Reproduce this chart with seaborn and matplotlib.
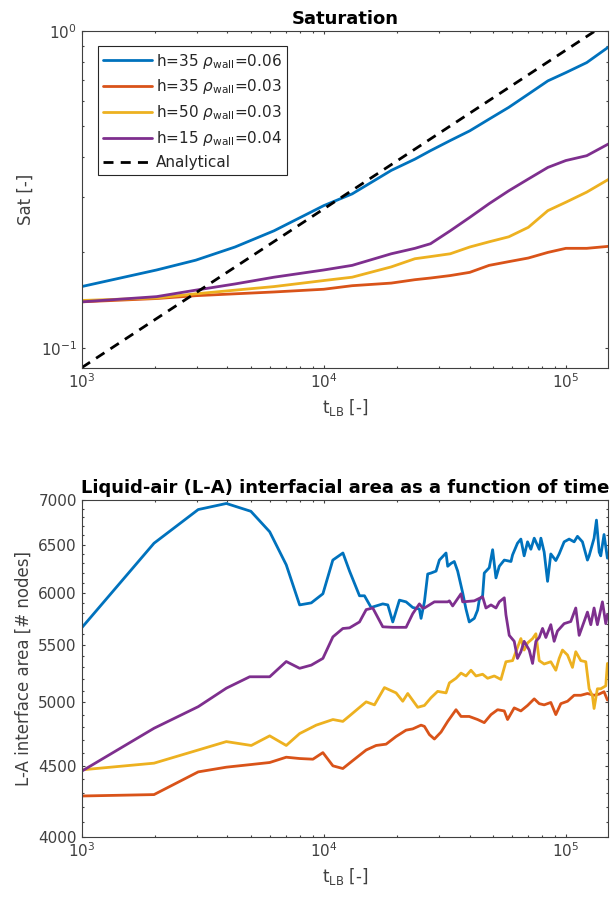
import numpy as np
import pandas as pd
import matplotlib
matplotlib.use("Agg")
import matplotlib.pyplot as plt
import seaborn as sns
from matplotlib.ticker import FixedLocator, FixedFormatter, NullFormatter, LogLocator, LogFormatterSciNotation

# ---------------- data ----------------
labels = [r"h=35 $\rho_{\rm wall}$=0.06", r"h=35 $\rho_{\rm wall}$=0.03",
          r"h=50 $\rho_{\rm wall}$=0.03", r"h=15 $\rho_{\rm wall}$=0.04"]
colors = ["#0072BD", "#D95319", "#EDB120", "#7E2F8E"]

# Saturation vs lattice time
sat_time = [1000, 2040, 2960, 4300, 6230, 10000, 13100, 19000, 23800, 27600,
            33300, 40100, 48200, 58100, 70000, 84300, 100000, 122000, 150000]
sat_h35_w06 = [0.156, 0.176, 0.189, 0.208, 0.234, 0.281, 0.306, 0.363, 0.394, 0.419,
               0.451, 0.484, 0.527, 0.574, 0.632, 0.696, 0.739, 0.795, 0.89]
sat_h35_w03 = [0.1396, 0.143, 0.146, 0.148, 0.150, 0.153, 0.157, 0.160, 0.164, 0.166,
               0.169, 0.173, 0.182, 0.187, 0.192, 0.200, 0.206, 0.206, 0.209]
sat_h50_w03 = [0.141, 0.1436, 0.148, 0.152, 0.156, 0.163, 0.167, 0.180, 0.191, 0.194,
               0.198, 0.208, 0.216, 0.224, 0.240, 0.271, 0.288, 0.310, 0.340]
sat_h15_w04 = [0.1396, 0.145, 0.152, 0.159, 0.167, 0.176, 0.182, 0.198, 0.206, 0.213,
               0.234, 0.258, 0.285, 0.313, 0.341, 0.371, 0.390, 0.404, 0.440]
analytical_time = [1000, 132000]
analytical_sat = [0.0865, 1.0]

# Liquid-air interfacial area vs lattice time
la_t_h35_w06 = [1000, 1990, 3030, 3960, 5000, 5980, 7000, 7950, 8880, 9920, 10900, 12000,
                12780, 14050, 14730, 15690, 17530, 18390, 19280, 20540, 21880, 23310,
                24830, 25230, 26050, 26880, 27750, 29100, 30030, 32000, 32510, 33550,
                34600, 35740, 37480, 38680, 39900, 41860, 43210, 43900, 45310, 46030,
                48270, 49840, 51440, 53090, 55680, 59340, 60250, 63130, 65200, 67260,
                69480, 71710, 74030, 77630, 78870, 81370, 84040, 86670, 90900, 93850,
                98400, 103200, 108200, 111700, 117100, 122800, 124800, 130800, 133800,
                137300, 139400, 143800, 148500]
la_h35_w06 = [5660, 6515, 6890, 6960, 6870, 6640, 6285, 5880, 5900, 5990, 6335, 6410,
              6220, 5970, 5970, 5855, 5890, 5880, 5716, 5927, 5910, 5855,
              5840, 5750, 5910, 6190, 6200, 6220, 6335, 6410, 6270, 6300,
              6320, 6220, 6000, 5840, 5716, 5750, 5830, 5930, 5970, 6200,
              6255, 6445, 6150, 6270, 6335, 6320, 6390, 6515, 6560, 6380,
              6530, 6450, 6570, 6450, 6570, 6420, 6115, 6400, 6330, 6400,
              6530, 6560, 6530, 6590, 6530, 6335, 6380, 6570, 6770,
              6420, 6380, 6610, 6355]

la_t_h35_w03 = [1000, 1990, 3030, 3960, 5020, 5980, 7000, 7950, 9020, 9918, 10910, 11990,
                13190, 14970, 16460, 18090, 19900, 21880, 23310, 25230, 26050, 27310,
                28640, 30510, 32510, 35180, 36900, 39900, 43210, 46030, 49070, 52260,
                55680, 57450, 61200, 65200, 69480, 74030, 77630, 81370, 86670, 90900,
                95350, 101600, 108200, 115300, 122800, 130800, 137300, 143800, 148500]
la_h35_w03 = [4280, 4290, 4455, 4490, 4510, 4525, 4565, 4555, 4550, 4600, 4500, 4480,
              4540, 4620, 4655, 4665, 4725, 4775, 4785, 4815, 4805, 4740,
              4705, 4760, 4845, 4940, 4885, 4885, 4860, 4835, 4900, 4940,
              4930, 4860, 4955, 4930, 4975, 5030, 4990, 4980, 5000, 4900,
              4990, 5010, 5060, 5060, 5075, 5060, 5070, 5090, 5020]

la_t_h50_w03 = [1000, 1990, 3030, 3960, 5020, 5980, 7000, 7950, 9310, 10910, 11990, 12780,
                14970, 16200, 17810, 19900, 21200, 22230, 24440, 26050, 27750, 29550,
                32000, 33030, 35180, 36900, 38680, 40560, 42540, 45310, 47520, 50630,
                53940, 56560, 60250, 65200, 67260, 69480, 72870, 75210, 77630, 81370,
                86670, 90900, 93850, 96850, 101600, 106500, 109900, 115300, 120900,
                124800, 128800, 130800, 135000, 139400, 146200, 148500]
la_h50_w03 = [4470, 4520, 4620, 4685, 4655, 4730, 4655, 4748, 4815, 4860, 4845, 4890,
              5005, 4980, 5125, 5080, 5010, 5075, 4960, 4975, 5040, 5093,
              5080, 5165, 5205, 5250, 5225, 5275, 5225, 5240, 5205, 5225,
              5195, 5350, 5360, 5560, 5455, 5520, 5560, 5605, 5360, 5330,
              5350, 5275, 5380, 5455, 5410, 5300, 5440, 5360, 5350,
              5115, 5055, 4950, 5115, 5115, 5140, 5335]

la_t_h15_w04 = [1000, 1990, 3030, 3960, 4943, 5980, 7000, 7950, 8880, 9920, 10910, 11990,
                12780, 14050, 14970, 15940, 17530, 19280, 21200, 21880, 23310, 24830,
                25630, 26050, 28640, 32510, 33030, 34080, 36900, 37480, 41860, 45310,
                46770, 49070, 51440, 53090, 55680, 56560, 58370, 61200, 63130, 65200,
                67260, 70590, 72870, 75210, 77630, 80130, 82690, 86670, 89470, 92330,
                98400, 104800, 109900, 113500, 119000, 122800, 126800, 130800, 135000,
                141600, 146200, 148500]
la_h15_w04 = [4460, 4790, 4965, 5120, 5218, 5218, 5352, 5292, 5320, 5380, 5576, 5654,
              5660, 5716, 5834, 5850, 5670, 5665, 5665, 5665, 5795, 5890,
              5850, 5850, 5910, 5910, 5920, 5870, 5990, 5910, 5920, 5960,
              5850, 5880, 5850, 5910, 5950, 5785, 5590, 5535, 5380, 5440,
              5535, 5455, 5335, 5535, 5570, 5655, 5570, 5690, 5535, 5630,
              5700, 5720, 5850, 5590, 5720, 5810, 5690, 5850, 5690,
              5910, 5700, 5785]

area_ticks = [4000, 4500, 5000, 5500, 6000, 6500, 7000]
area_tick_labels = ["4000", "4500", "5000", "5500", "6000", "6500", "7000"]

# ---------------- style ----------------
sns.set_style("ticks")
plt.rcParams["font.family"] = ["DejaVu Sans"]
plt.rcParams["mathtext.fontset"] = "dejavusans"
text_gray = "#404040"
plt.rcParams.update({
    "axes.edgecolor": text_gray,
    "axes.linewidth": 0.8,
    "xtick.color": text_gray,
    "ytick.color": text_gray,
    "axes.labelcolor": text_gray,
})

fig = plt.figure(figsize=(6.14, 8.99), dpi=100)
ax1 = fig.add_axes([0.133, 0.591, 0.858, 0.3745])
ax2 = fig.add_axes([0.133, 0.0693, 0.858, 0.3745])

LW = 2.0

# ---------------- saturation panel ----------------
sat_series = [sat_h35_w06, sat_h35_w03, sat_h50_w03, sat_h15_w04]
for vals, lab, col in zip(sat_series, labels, colors):
    sns.lineplot(x=sat_time, y=vals, color=col, lw=LW, label=lab, ax=ax1,
                 estimator=None, sort=False)
sns.lineplot(x=analytical_time, y=analytical_sat, color="black", lw=LW,
             label="Analytical", ax=ax1, estimator=None, sort=False,
             dashes=False)
ax1.lines[-1].set_dashes((3.6, 2.6))

ax1.set_xscale("log")
ax1.set_yscale("log")
ax1.set_xlim(1000, 1.5e5)
ax1.set_ylim(0.0865, 1.0)
ax1.set_title("Saturation", fontsize=13, fontweight="bold", color="black", pad=5)
ax1.set_xlabel(r"t$_{\rm LB}$ [-]", fontsize=12)
ax1.set_ylabel("Sat [-]", fontsize=12)
ax1.xaxis.set_major_locator(LogLocator(base=10))
ax1.xaxis.set_major_formatter(LogFormatterSciNotation())
ax1.yaxis.set_major_locator(FixedLocator([0.1, 1.0]))
ax1.yaxis.set_major_formatter(LogFormatterSciNotation())
ax1.yaxis.set_minor_locator(FixedLocator([0.2, 0.3, 0.4, 0.5, 0.6, 0.7, 0.8, 0.9]))
ax1.yaxis.set_minor_formatter(NullFormatter())

leg = ax1.legend(loc="upper left", bbox_to_anchor=(0.031, 0.955), borderaxespad=0,
                 fontsize=11, handlelength=3.2, labelspacing=0.45, handletextpad=0.25,
                 fancybox=False, framealpha=1, edgecolor="#262626", borderpad=0.35)
leg.get_frame().set_linewidth(0.8)
for txt in leg.get_texts():
    txt.set_color("#262626")

# ---------------- interfacial area panel ----------------
area_t = [la_t_h35_w06, la_t_h35_w03, la_t_h50_w03, la_t_h15_w04]
area_v = [la_h35_w06, la_h35_w03, la_h50_w03, la_h15_w04]
for tt, vv, col in zip(area_t, area_v, colors):
    sns.lineplot(x=tt, y=vv, color=col, lw=LW, ax=ax2, estimator=None,
                 sort=False, legend=False)

ax2.set_xscale("log")
ax2.set_yscale("log")
ax2.set_xlim(1000, 1.5e5)
ax2.set_ylim(4000, 7000)
ax2.set_title("Liquid-air (L-A) interfacial area as a function of time",
              fontsize=13, fontweight="bold", color="black", pad=5)
ax2.set_xlabel(r"t$_{\rm LB}$ [-]", fontsize=12)
ax2.set_ylabel("L-A interface area [# nodes]", fontsize=12)
ax2.xaxis.set_major_locator(LogLocator(base=10))
ax2.xaxis.set_major_formatter(LogFormatterSciNotation())
ax2.yaxis.set_major_locator(FixedLocator(area_ticks))
ax2.yaxis.set_major_formatter(FixedFormatter(area_tick_labels))
ax2.yaxis.set_minor_locator(FixedLocator([v for v in range(4100, 7000, 100) if v % 500]))
ax2.yaxis.set_minor_formatter(NullFormatter())

for ax in (ax1, ax2):
    ax.tick_params(which="both", direction="in", top=True, right=True,
                   labelsize=11, width=0.8)
    ax.tick_params(which="major", length=2.2)
    ax.tick_params(which="minor", length=1.6)
    for sp in ax.spines.values():
        sp.set_visible(True)

fig.savefig("out.png", dpi=100)
